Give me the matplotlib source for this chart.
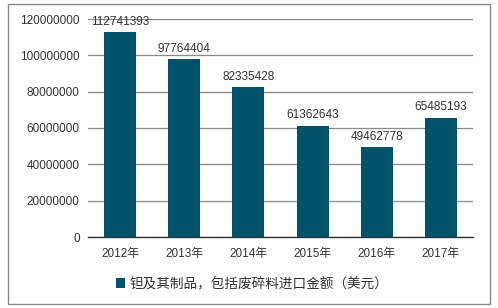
import matplotlib
matplotlib.use("Agg")
import matplotlib.pyplot as plt
from matplotlib.patches import Rectangle

categories = ["2012年", "2013年", "2014年", "2015年", "2016年", "2017年"]
values = [112741393, 97764404, 82335428, 61362643, 49462778, 65485193]
yticks = [0, 20000000, 40000000, 60000000, 80000000, 100000000, 120000000]
legend_label = "钽及其制品，包括废碎料进口金额（美元）"

plt.rcParams['font.family'] = ['Liberation Sans', 'Noto Sans CJK SC', 'DejaVu Sans']

W, H = 498, 308
fig = plt.figure(figsize=(W/100, H/100), dpi=100)
ax = fig.add_axes([88/W, 1-237/H, (473-88)/W, (237-19)/H])

bar_color = "#00526B"
x = list(range(len(categories)))
bars = ax.bar(x, values, width=0.5, color=bar_color, zorder=3, label=legend_label)
for xi, v in zip(x, values):
    ax.text(xi, v + 2500000, str(v), ha='center', va='bottom', fontsize=8.5, color='#333333', zorder=4)

ax.set_xlim(-0.5, len(categories) - 0.5)
ax.set_ylim(0, 120000000)
ax.set_yticks(yticks)
ax.set_yticklabels([str(t) for t in yticks], fontsize=8.5, color='#333333')
ax.set_xticks(x)
ax.set_xticklabels(categories, fontsize=8.5, color='#333333')
ax.tick_params(axis='both', length=0, pad=6)
ax.tick_params(axis='x', pad=8)
ax.grid(axis='y', color='#888888', linewidth=0.9, zorder=0)
for s in ['top', 'right', 'left']:
    ax.spines[s].set_visible(False)
ax.spines['bottom'].set_color('#333333')
ax.spines['bottom'].set_linewidth(1.0)
ax.spines['bottom'].set_zorder(5)

leg = fig.legend(handles=[bars], labels=[legend_label], loc='center',
                 bbox_to_anchor=(252/W, 1-284/H), frameon=False, fontsize=9.8,
                 handlelength=0.7, handleheight=0.7, handletextpad=0.3)
for t in leg.get_texts():
    t.set_color('#333333')

fig.patches.append(Rectangle((8/W, 1-304/H), (490-8)/W, (304-4)/H, transform=fig.transFigure,
                             fill=False, edgecolor='#888888', linewidth=1.0))

fig.savefig("out.png", dpi=100)
